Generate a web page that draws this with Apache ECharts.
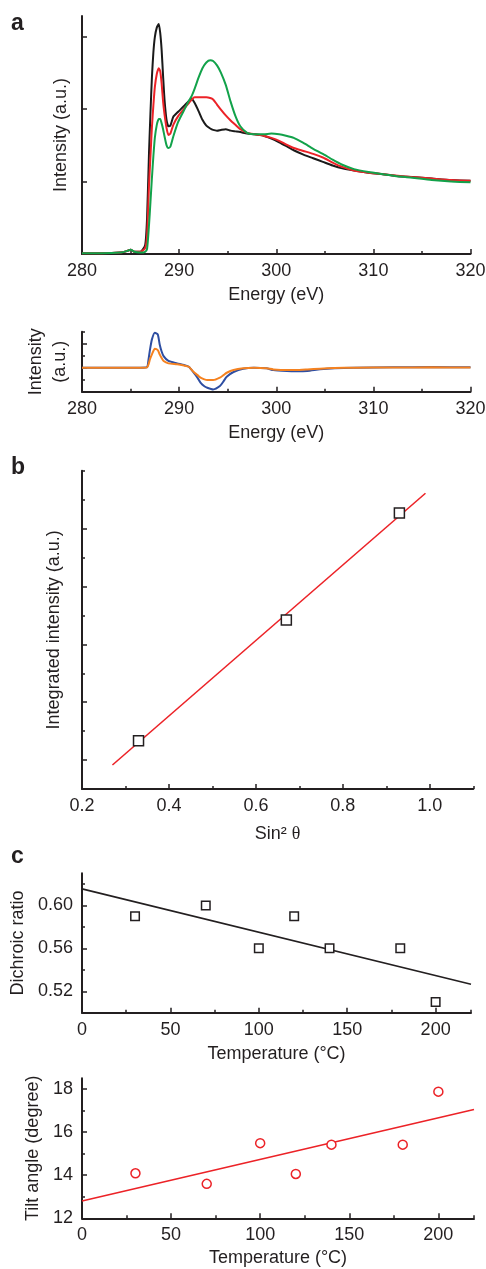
<!DOCTYPE html>
<html><head><meta charset="utf-8">
<script src="https://cdn.jsdelivr.net/npm/echarts@6/dist/echarts.min.js"></script>
<style>html,body{margin:0;padding:0;background:#fff}#c{width:486px;height:1269px}</style>
</head><body><div id="c"></div>
<script>
// ---------- Panel a (top): NEXAFS spectra ----------
const energy = [280, 282, 284, 284.6, 285, 285.4, 286, 286.5, 286.7, 286.9,
  287.05, 287.2, 287.35, 287.5, 287.7, 287.9, 288.05, 288.2, 288.35, 288.5,
  288.7, 288.9, 289.1, 289.4, 289.9, 290.5, 291.0, 291.3, 291.6, 292.0,
  292.4, 292.8, 293.2, 293.5, 293.9, 294.3, 294.8, 295.3, 295.8, 296.3,
  297.0, 297.8, 298.7, 299.5, 300.3, 301.0, 301.8, 302.8, 303.8, 304.8,
  305.8, 306.8, 308, 309.5, 311, 312.5, 314, 316, 318, 320];
const blackSpectrum = [0.01, 0.01, 0.02, 0.04, 0.06, 0.03, 0.03, 0.12, 0.50, 1.40,
  1.95, 2.44, 2.78, 2.99, 3.12, 3.17, 3.05, 2.81, 2.45, 2.12,
  1.85, 1.76, 1.77, 1.89, 1.96, 2.04, 2.11, 2.14, 2.08, 1.97,
  1.85, 1.77, 1.73, 1.71, 1.70, 1.71, 1.72, 1.70, 1.69, 1.68,
  1.66, 1.65, 1.63, 1.59, 1.54, 1.49, 1.43, 1.37, 1.32, 1.27,
  1.22, 1.18, 1.15, 1.12, 1.10, 1.07, 1.06, 1.04, 1.02, 1.01];
const redSpectrum = [0.01, 0.01, 0.02, 0.04, 0.06, 0.03, 0.03, 0.08, 0.25, 0.95,
  1.35, 1.75, 2.05, 2.30, 2.48, 2.56, 2.52, 2.35, 2.10, 1.92,
  1.74, 1.64, 1.66, 1.78, 1.90, 2.00, 2.08, 2.13, 2.16, 2.16,
  2.16, 2.16, 2.15, 2.13, 2.06, 1.99, 1.91, 1.84, 1.78, 1.72,
  1.67, 1.65, 1.63, 1.60, 1.56, 1.51, 1.46, 1.42, 1.38, 1.33,
  1.26, 1.20, 1.15, 1.12, 1.10, 1.08, 1.06, 1.04, 1.02, 1.01];
const greenSpectrum = [0.01, 0.01, 0.02, 0.04, 0.06, 0.03, 0.02, 0.03, 0.07, 0.40,
  0.72, 1.05, 1.35, 1.60, 1.78, 1.86, 1.86, 1.80, 1.72, 1.62,
  1.50, 1.46, 1.48, 1.62, 1.82, 1.98, 2.11, 2.18, 2.28, 2.43,
  2.56, 2.64, 2.67, 2.66, 2.60, 2.50, 2.33, 2.10, 1.90, 1.76,
  1.67, 1.65, 1.65, 1.66, 1.65, 1.63, 1.60, 1.53, 1.45, 1.38,
  1.30, 1.23, 1.17, 1.13, 1.10, 1.07, 1.05, 1.02, 1.00, 0.99];

// ---------- Panel a (bottom): difference spectra ----------
const diffEnergy = [280, 284, 286, 286.7, 286.85, 287.0, 287.2, 287.5, 287.8, 288.0,
  288.2, 288.4, 288.9, 289.8, 290.5, 291.0, 291.5, 291.9, 292.2, 292.6,
  292.9, 293.5, 294.2, 294.6, 294.9, 295.6, 296.6, 297.7, 299.0, 299.7,
  301.1, 302.0, 303.2, 304.5, 306, 308, 312, 316, 320];
const blueDiff = [0, 0, 0, 0.05, 0.69, 1.5, 2.36, 2.92, 2.78, 1.94,
  1.35, 0.97, 0.56, 0.36, 0.22, 0.08, -0.42, -0.85, -1.25, -1.55,
  -1.67, -1.81, -1.53, -1.1, -0.75, -0.36, -0.08, 0, -0.05, -0.2,
  -0.28, -0.3, -0.28, -0.14, -0.05, 0, 0.03, 0.05, 0.03];
const orangeDiff = [0, 0, 0, 0.03, 0.28, 0.7, 1.11, 1.58, 1.47, 1.11,
  0.8, 0.56, 0.36, 0.28, 0.18, 0.08, -0.36, -0.62, -0.83, -0.97,
  -1.03, -1.03, -0.83, -0.6, -0.42, -0.19, -0.05, 0, -0.05, -0.14,
  -0.2, -0.2, -0.15, -0.08, -0.03, 0, 0.02, 0.03, 0.02];

// ---------- Panel b ----------
const sin2Theta = [0.33, 0.67, 0.93];
const integratedIntensity = [1.67, 5.84, 9.54];
const fitBX = [0.27, 0.99];
const fitBY = [0.83, 10.22];

// ---------- Panel c ----------
const temperature = [30, 70, 100, 120, 140, 180, 200];
const dichroicRatio = [0.59, 0.60, 0.56, 0.59, 0.56, 0.56, 0.51];
const tiltAngle = [14.09, 13.6, 15.49, 14.06, 15.42, 15.42, 17.88];
const fitTempX = [0, 220];
const dichroicFitY = [0.6155, 0.5265];
const tiltFitY = [12.8, 17.05];

// ---------- Tick labels ----------
const energyTicks = [280, 290, 300, 310, 320];
const energyMinorTicks = [285, 295, 305, 315];
const sinTicks = [0.2, 0.4, 0.6, 0.8, 1.0];
const sinMinorTicks = [0.3, 0.5, 0.7, 0.9, 1.1];
const tempTicks = [0, 50, 100, 150, 200];
const tempMinorTicks = [25, 75, 125, 175, 220];
const dichroicTicks = [0.52, 0.56, 0.60];
const dichroicMinorTicks = [0.54, 0.58, 0.62];
const tiltTicks = [12, 14, 16, 18];
const tiltMinorTicks = [13, 15, 17];

const FONT = '"Liberation Sans", Arial, Helvetica, sans-serif';
const INK = '#231f20';
const RED = '#ec2227';
const GREEN = '#12a24a';
const BLUE = '#2e4ea2';
const ORANGE = '#f58220';

const zip = (xs, ys) => xs.map((x, i) => [x, ys[i]]);

function axis(dim, gridIndex, min, max, o) {
  const a = {
    type: 'value', gridIndex, min, max,
    position: dim === 'x' ? 'bottom' : 'left', offset: 0,
    axisLine: { show: o.line !== false, onZero: false, lineStyle: { color: INK, width: 2 } },
    axisTick: { show: true, inside: true, length: o.tickLen || 5, customValues: o.ticks,
      lineStyle: { color: INK, width: 1.5 } },
    axisLabel: o.labels ? { show: true, customValues: o.labels, formatter: o.fmt,
      color: INK, fontSize: 18, fontFamily: FONT, margin: o.margin || 8 } : { show: false },
    splitLine: { show: false },
    minorTick: { show: false },
    axisPointer: { show: false }
  };
  if (o.name) {
    a.name = o.name; a.nameLocation = 'middle'; a.nameGap = o.gap;
    a.nameTextStyle = Object.assign({ color: INK, fontSize: 18, fontFamily: FONT }, o.nameStyle || {});
  }
  return a;
}

const xAxes = [
  axis('x', 0, 280, 320, { ticks: energyTicks, labels: energyTicks, name: 'Energy (eV)', gap: 32 }),
  axis('x', 0, 280, 320, { ticks: energyMinorTicks, tickLen: 3, line: false }),
  axis('x', 1, 280, 320, { ticks: energyTicks, labels: energyTicks, name: 'Energy (eV)', gap: 32 }),
  axis('x', 1, 280, 320, { ticks: energyMinorTicks, tickLen: 3, line: false }),
  axis('x', 2, 0.2, 1.1, { ticks: sinTicks, labels: sinTicks, fmt: v => (+v).toFixed(1),
    name: '{n|Sin² }{t|θ}', gap: 36,
    nameStyle: { rich: { n: { fontSize: 18, fontFamily: FONT, color: INK },
      t: { fontSize: 18, fontFamily: '"Liberation Serif", "DejaVu Serif", serif', color: INK } } } }),
  axis('x', 2, 0.2, 1.1, { ticks: sinMinorTicks, tickLen: 3, line: false }),
  axis('x', 3, 0, 220, { ticks: tempTicks, labels: tempTicks, name: 'Temperature (°C)', gap: 32 }),
  axis('x', 3, 0, 220, { ticks: tempMinorTicks, tickLen: 3, line: false }),
  axis('x', 4, 0, 220, { ticks: tempTicks, labels: tempTicks, name: 'Temperature (°C)', gap: 31 }),
  axis('x', 4, 0, 220, { ticks: tempMinorTicks, tickLen: 3, line: false })
];
const yAxes = [
  axis('y', 0, 0, 3.28, { ticks: [1, 2, 3], name: 'Intensity (a.u.)', gap: 12 }),
  axis('y', 1, -2, 3, { ticks: [0, 2], name: 'Intensity\n(a.u.)', gap: 10, nameStyle: { lineHeight: 24 } }),
  axis('y', 1, -2, 3, { ticks: [-1, 1, 3], tickLen: 3, line: false }),
  axis('y', 2, 0, 11, { ticks: [1, 3, 5, 7, 9], name: 'Integrated intensity (a.u.)', gap: 19 }),
  axis('y', 2, 0, 11, { ticks: [2, 4, 6, 8, 10, 11], tickLen: 3, line: false }),
  axis('y', 3, 0.50, 0.63, { ticks: dichroicTicks, labels: dichroicTicks, fmt: v => (+v).toFixed(2),
    margin: 9, name: 'Dichroic ratio', gap: 54 }),
  axis('y', 3, 0.50, 0.63, { ticks: dichroicMinorTicks, tickLen: 3, line: false }),
  axis('y', 4, 12, 18.5, { ticks: tiltTicks, labels: tiltTicks, margin: 9, name: 'Tilt angle (degree)', gap: 39 }),
  axis('y', 4, 12, 18.5, { ticks: tiltMinorTicks, tickLen: 3, line: false })
];

const grids = [
  { left: 82, top: 16, width: 388.5, height: 238 },
  { left: 82, top: 331.7, width: 388.5, height: 60 },
  { left: 82, top: 470.7, width: 391.3, height: 318.3 },
  { left: 82, top: 873.3, width: 389, height: 139.4 },
  { left: 82, top: 1078.3, width: 392, height: 140 }
].map(g => Object.assign({ outerBoundsMode: 'none', containLabel: false }, g));

const lineS = (xi, yi, data, color, w) => ({
  type: 'line', xAxisIndex: xi, yAxisIndex: yi, data, showSymbol: false, symbol: 'none',
  smooth: 0.2, lineStyle: { color, width: w }, itemStyle: { color }, silent: true
});
const scatterS = (xi, yi, data, symbol, size, color) => ({
  type: 'scatter', xAxisIndex: xi, yAxisIndex: yi, data, symbol, symbolSize: size,
  itemStyle: { color: '#ffffff', borderColor: color, borderWidth: 1.5, opacity: 1 }, z: 5, silent: true
});

const series = [
  lineS(0, 0, zip(energy, blackSpectrum), '#1a1a1a', 2),
  lineS(0, 0, zip(energy, redSpectrum), RED, 2),
  lineS(0, 0, zip(energy, greenSpectrum), GREEN, 2),
  lineS(2, 1, zip(diffEnergy, blueDiff), BLUE, 2),
  lineS(2, 1, zip(diffEnergy, orangeDiff), ORANGE, 2),
  Object.assign(lineS(4, 3, zip(fitBX, fitBY), RED, 1.6), { smooth: false }),
  scatterS(4, 3, zip(sin2Theta, integratedIntensity), 'rect', 10, INK),
  Object.assign(lineS(6, 5, zip(fitTempX, dichroicFitY), INK, 1.6), { smooth: false }),
  scatterS(6, 5, zip(temperature, dichroicRatio), 'rect', 8.5, INK),
  Object.assign(lineS(8, 7, zip(fitTempX, tiltFitY), RED, 1.6), { smooth: false }),
  scatterS(8, 7, zip(temperature, tiltAngle), 'circle', 9, RED)
];

const letter = (t, top) => ({ text: t, left: 11, top, padding: 0,
  textStyle: { fontSize: 23, fontWeight: 'bold', fontFamily: FONT, color: INK } });

const chart = echarts.init(document.getElementById('c'), null, { renderer: 'canvas' });
chart.setOption({
  backgroundColor: '#ffffff',
  animation: false,
  title: [letter('a', 12), letter('b', 456), letter('c', 845)],
  grid: grids,
  xAxis: xAxes,
  yAxis: yAxes,
  series
});
</script>
</body></html>
